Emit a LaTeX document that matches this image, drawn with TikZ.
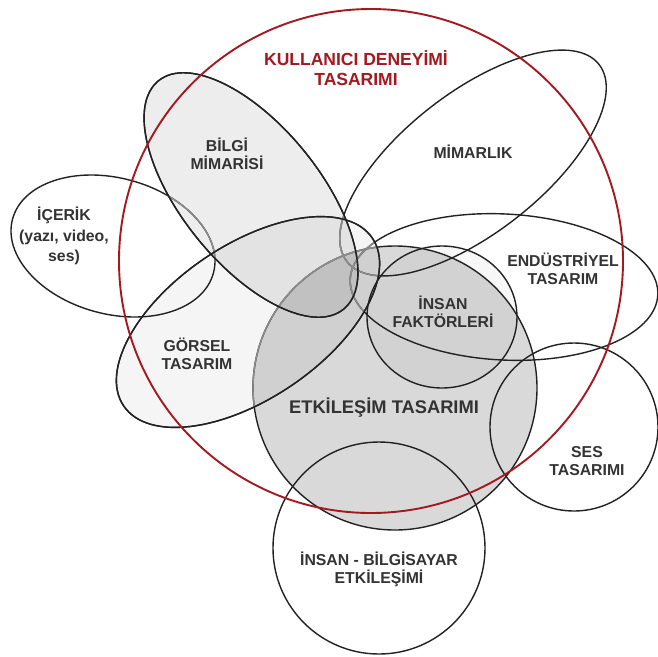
\documentclass[tikz,border=0pt]{standalone}
\usepackage{fontspec}
\setmainfont{Liberation Sans}
\definecolor{linec}{HTML}{222222}
\definecolor{faintc}{HTML}{8C8C8C}
\definecolor{textc}{HTML}{333333}
\definecolor{redc}{HTML}{A3191F}
\newcommand\shETK[1]{\path[#1] (395,388) circle [radius=142];}
\newcommand\shBIL[1]{\path[#1,rotate around={-51:(251,195)}] (251,195) ellipse [x radius=147,y radius=69];}
\newcommand\shGOR[1]{\path[#1,rotate around={34:(248,322)}] (248,322) ellipse [x radius=150,y radius=77];}
\newcommand\shMIM[1]{\path[#1,rotate around={38:(473,163)}] (473,163) ellipse [x radius=160,y radius=70];}
\newcommand\shICE[1]{\path[#1,rotate around={-15:(113,246)}] (113,246) ellipse [x radius=104,y radius=68];}
\newcommand\shEND[1]{\path[#1,rotate around={-3:(504,287)}] (504,287) ellipse [x radius=154,y radius=73];}
\newcommand\shINF[1]{\path[#1] (442,317) ellipse [x radius=75,y radius=71];}
\newcommand\shSES[1]{\path[#1] (574,427) circle [radius=84];}
\newcommand\shIBE[1]{\path[#1] (379,548) circle [radius=106];}
\tikzset{
  outl/.style={draw=linec, line width=1.4pt},
  faint/.style={draw=faintc, line width=1.4pt},
  lbl/.style={text=textc, font=\bfseries\fontsize{15.8}{18}\selectfont, align=center, inner sep=0pt},
  bigl/.style={text=textc, font=\bfseries\fontsize{18.3}{22}\selectfont, align=center, inner sep=0pt},
  titl/.style={text=redc, font=\bfseries\fontsize{17.5}{20}\selectfont, align=center, inner sep=0pt},
}
\begin{document}
\begin{tikzpicture}[x=1pt,y=-1pt]
\useasboundingbox[fill=white] (0,0) rectangle (657,657);
% fills
\shETK{fill=black, fill opacity=0.15}
\shBIL{fill=black, fill opacity=0.07}
\shGOR{fill=black, fill opacity=0.04}
\shINF{fill=black, fill opacity=0.03}
% outlines
\shICE{outl}
\shMIM{outl}
\shEND{outl}
\shETK{outl}
\shINF{outl}
\shSES{outl}
\shIBE{outl}
\shBIL{outl}
\shGOR{outl}
% lighter parts under the semi-transparent ellipses
\begin{scope}
  \shBIL{clip}
  \shICE{faint}
  \shMIM{faint}
  \shEND{faint}
  \shETK{faint}
\end{scope}
\begin{scope}
  \shGOR{clip}
  \shMIM{faint}
  \shEND{faint}
  \shETK{faint}
\end{scope}
\shBIL{outl}
\shGOR{outl}
% red circle
\draw[redc, line width=1.9pt] (371,261) circle [radius=252];
% labels
\node[titl] (ux) at (356,68) {KULLANICI DENEYİMİ\\TASARIMI};
\node[lbl] (bilgi) at (227,154) {BİLGİ\\MİMARİSİ};
\node[lbl] (mim) at (473,152) {MİMARLIK};
\node[lbl, font=\bfseries\fontsize{15.8}{20.5}\selectfont] (icerik) at (64,236) {İÇERİK\\(yazı, video,\\ses)};
\node[lbl] (gorsel) at (197,354) {GÖRSEL\\TASARIM};
\node[bigl] (etk) at (384,408) {ETKİLEŞİM TASARIMI};
\node[lbl] (insanf) at (443,312) {İNSAN\\FAKTÖRLERİ};
\node[lbl] (endus) at (563,269) {ENDÜSTRİYEL\\TASARIM};
\node[lbl] (ses) at (587,461) {SES\\TASARIMI};
\node[lbl] (hci) at (379,569) {İNSAN - BİLGİSAYAR\\ETKİLEŞİMİ};
\end{tikzpicture}
\end{document}
